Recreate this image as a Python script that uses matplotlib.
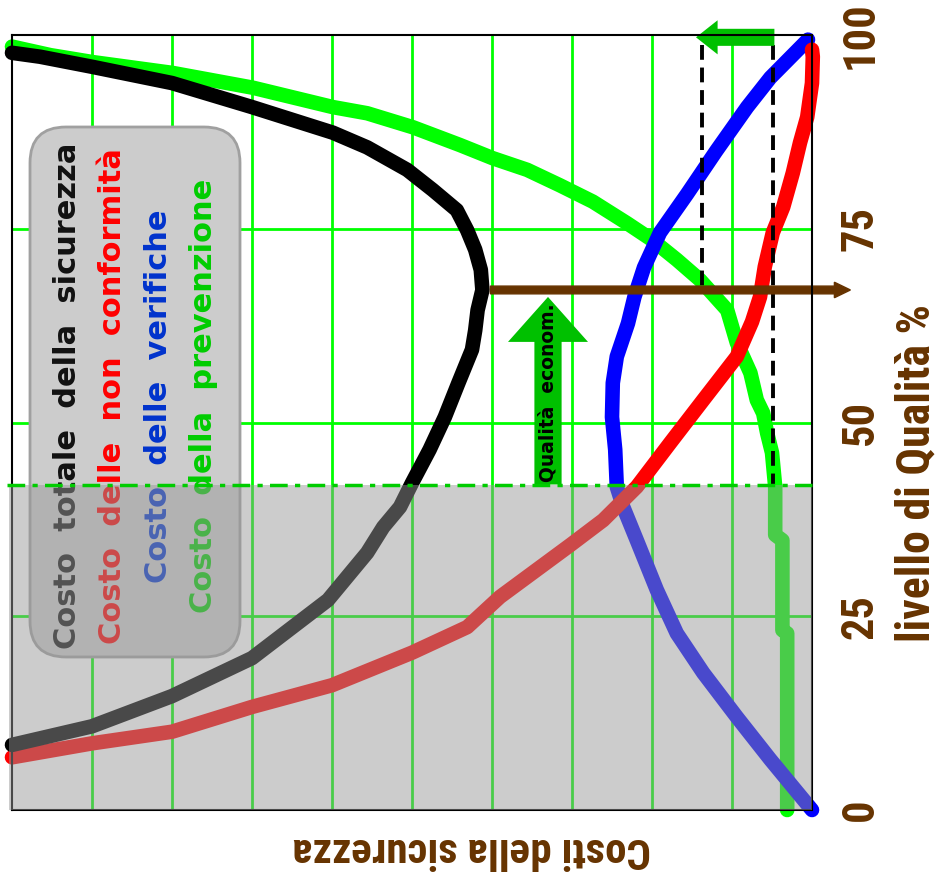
import matplotlib
matplotlib.use('Agg')
import matplotlib.pyplot as plt
from matplotlib.patches import FancyBboxPatch, Rectangle, FancyArrow

# costi in unita' di griglia (0 = sinistra, 10 = destra), qualita' in %
tot_x = [0, 1, 2, 3, 3.95, 4.44, 4.64, 4.85, 5.0, 5.22, 5.41, 5.58, 5.75, 5.79, 5.82, 5.88,
         5.86, 5.79, 5.69, 5.56, 5.26, 4.94, 4.44, 4.01, 3.0, 2.0, 1.0, 0.35, 0]
tot_y = [8.4, 10.8, 14.7, 19.6, 27.1, 33.2, 36.5, 39.1, 42.2, 46.5, 50.7, 55.1, 59.4, 61.9,
         64.5, 67.1, 69.7, 72.3, 74.8, 77.4, 80.0, 82.6, 85.5, 87.4, 90.7, 93.8, 95.9, 97.2, 97.7]

nc_x = [0, 1, 2, 3, 4, 5, 5.69, 6.1, 6.98, 7.39, 7.81, 8.23, 8.64, 9.06, 9.25, 9.35, 9.41,
        9.51, 9.64, 9.76, 9.85, 9.94, 10.0, 10.01, 10.0]
nc_y = [6.8, 8.6, 10.1, 13.3, 16.1, 20.3, 23.6, 27.5, 34.2, 37.4, 41.7, 47.4, 52.9, 58.5, 63.0,
        66.2, 70.1, 74.5, 77.8, 82.2, 86.1, 89.4, 93.8, 97.2, 98.1]

ver_x = [10, 9.48, 9.06, 8.64, 8.31, 8.06, 7.81, 7.64, 7.56, 7.54, 7.5, 7.51, 7.56, 7.7, 7.78,
         7.9, 8.1, 8.44, 8.8, 9.19, 9.48, 9.95]
ver_y = [0, 6.5, 12.0, 17.7, 22.8, 28.4, 34.8, 39.1, 41.7, 46.5, 50.7, 55.1, 58.5, 62.8, 66.2,
         70.0, 74.5, 79.5, 85.0, 90.7, 94.5, 99.4]

prev_x = [9.69, 9.69, 9.63, 9.63, 9.54, 9.54, 9.5, 9.44, 9.39, 9.31, 9.23, 9.06, 8.94, 8.6,
          8.31, 8.01, 7.69, 7.26, 6.85, 6.44, 6.01, 5.6, 5.01, 4.44, 4.01, 3.01, 2.01, 1.01,
          0.48, 0]
prev_y = [0, 22.8, 23.2, 34.8, 35.5, 41.7, 46.1, 48.6, 51.2, 52.9, 56.4, 60.3, 64.5, 68.4,
          71.0, 73.5, 75.7, 78.5, 80.6, 82.6, 84.1, 85.8, 88.1, 89.9, 90.7, 93.2, 95.1, 96.5,
          97.4, 98.5]

q_econ = 67.1      # qualita' economica
q_min = 42         # limite zona grigia
dash_x = [8.63, 9.51]
dash_bottom = [67.1, 42]

texts = ['Costo  totale  della  sicurezza', 'Costo  delle  non  conformità',
         'Costo  delle  verifiche', 'Costo  della  prevenzione']
colors = ['#111111', '#ff0000', '#0033cc', '#00cc00']
yticks = [0, 25, 50, 75, 100]
brown = '#663300'
narrow = ['Roboto Condensed', 'DejaVu Sans Condensed', 'Liberation Sans Narrow', 'DejaVu Sans']

fig = plt.figure(figsize=(9.39, 8.82), dpi=100)
ax = fig.add_axes([12/939, 72/882, 800/939, 775/882])
ax.set_xlim(0, 10)
ax.set_ylim(0, 100)

for v in range(1, 10):
    ax.axvline(v, color='#00ff00', lw=2, zorder=0.5)
for v in [25, 50, 75]:
    ax.axhline(v, color='#00ff00', lw=2, zorder=0.5)

kw = dict(lw=10.5, solid_capstyle='round', solid_joinstyle='round', clip_on=False)
ax.plot(prev_x, prev_y, color='#00ff00', zorder=2, **kw)
ax.plot(ver_x, ver_y, color='#0000ff', zorder=2.1, **kw)
ax.plot(nc_x, nc_y, color='#ff0000', zorder=2.2, **kw)
ax.plot(tot_x, tot_y, color='#000000', zorder=2.3, **kw)

for xd, yb in zip(dash_x, dash_bottom):
    ax.plot([xd, xd], [98.7, yb], color='black', lw=2.8, ls=(0, (3.8, 2)), zorder=3)

# legenda
box = FancyBboxPatch((18/80, (810-657)/7.75), (240-30)/80, (657-127)/7.75,
                     boxstyle='round,pad=0,rounding_size=0.45', mutation_aspect=10.3,
                     fc='#cccccc', ec='#a0a0a0', lw=2, zorder=4)
ax.add_patch(box)
xpos = [0.7, 1.26, 1.83, 2.39]
for t, c, xp in zip(texts, colors, xpos):
    ax.text(xp, 53.4, t, rotation=90, color=c, fontsize=22, fontweight='bold',
            ha='center', va='center', zorder=5)

# frecce
ax.add_patch(FancyArrow(5.98, q_econ, 4.5, 0, width=1.0, head_width=2.0, head_length=0.2,
                        length_includes_head=True, color=brown, zorder=6, clip_on=False))
ax.add_patch(FancyArrow(6.7, q_min, 0, 66.2 - q_min, width=0.34, head_width=1.0,
                        head_length=5.8, length_includes_head=True, color='#00c000',
                        lw=0, zorder=6))
ax.text(6.7, 53.8, 'Qualità  econom.', rotation=90, fontsize=13.5, fontweight='bold',
        ha='center', va='center', zorder=6.5)
ax.add_patch(FancyArrow(9.53, 99.7, -0.98, 0, width=2.2, head_width=4.4, head_length=0.27,
                        length_includes_head=True, color='#00c000', lw=0, zorder=6,
                        clip_on=False))

# zona grigia
ax.add_patch(Rectangle((-0.04, 0), 10.04, q_min, fc=(151/255, 151/255, 151/255), alpha=0.49,
                       lw=0, zorder=7, clip_on=False))
ax.plot([-0.06, 10], [q_min, q_min], color='#00cc00', lw=2.5, ls=(0, (5.1, 2.1, 1.5, 2.1)),
        zorder=8, clip_on=False)

for s in ax.spines.values():
    s.set_linewidth(1.5)
    s.set_zorder(6.8)

ax.set_xticks([])
ax.set_yticks(yticks)
ax.yaxis.tick_right()
ax.tick_params(axis='y', length=0, pad=20, labelsize=32, labelcolor=brown)
for lab in ax.get_yticklabels():
    lab.set_rotation(90)
    lab.set_va('center')
    lab.set_fontweight('bold')
    lab.set_family(narrow)

ax.yaxis.set_label_position('right')
ax.set_ylabel('livello di Qualità %', rotation=90, fontsize=33, fontweight='bold', color=brown,
              family=narrow, va='center', ha='center')
ax.yaxis.set_label_coords((916-12)/800, (810-473)/775)
ax.set_xlabel('Costi della sicurezza', rotation=180, fontsize=31, fontweight='bold', color=brown,
              family=narrow, va='center', ha='center')
ax.xaxis.set_label_coords((472-12)/800, (810-849)/775)

fig.savefig('out.png', dpi=100)
